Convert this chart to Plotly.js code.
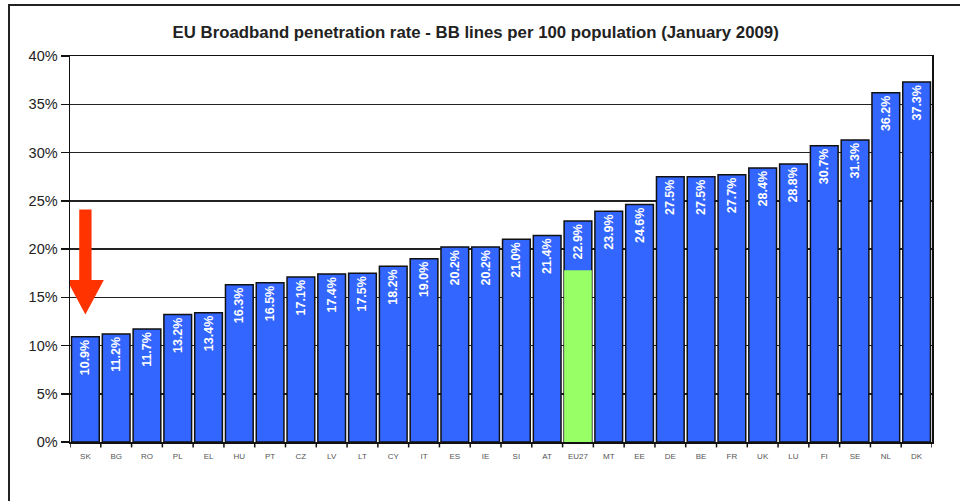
<!DOCTYPE html>
<html>
<head>
<meta charset="utf-8">
<script src="https://cdn.plot.ly/plotly-3.0.1.min.js"></script>
<style>
  html, body { margin: 0; padding: 0; background: #fff; }
  #wrap { position: relative; width: 960px; height: 501px; overflow: hidden; }
  #frame { position: absolute; left: 8px; top: 4px; width: 1000px; height: 600px;
           border-left: 2px solid #222; border-top: 2px solid #222; pointer-events: none; }
  #chart { position: absolute; left: 0; top: 0; width: 960px; height: 501px; }
</style>
</head>
<body>
<div id="wrap">
  <div id="chart"></div>
  <div id="frame"></div>
</div>
<script>
const countries = ["SK","BG","RO","PL","EL","HU","PT","CZ","LV","LT","CY","IT","ES","IE","SI","AT","EU27","MT","EE","DE","BE","FR","UK","LU","FI","SE","NL","DK"];
const rates = [10.9,11.2,11.7,13.2,13.4,16.3,16.5,17.1,17.4,17.5,18.2,19.0,20.2,20.2,21.0,21.4,22.9,23.9,24.6,27.5,27.5,27.7,28.4,28.8,30.7,31.3,36.2,37.3];
const eu27Green = [null,null,null,null,null,null,null,null,null,null,null,null,null,null,null,null,17.8,null,null,null,null,null,null,null,null,null,null,null];
const yTicks = [0,5,10,15,20,25,30,35,40];
const yTickLabels = yTicks.map(v => v + "%");
const titleText = "EU Broadband penetration rate - BB lines per 100 population (January 2009)";

const labels = rates.map(v => v.toFixed(1) + "%");
const xIdx = countries.map((c, i) => i);

const traces = [
  {
    type: "bar",
    x: xIdx,
    y: rates,
    text: labels,
    textposition: "inside",
    insidetextanchor: "end",
    textangle: -90,
    constraintext: "none",
    textfont: { family: "Liberation Sans, Arial, sans-serif", size: 12.5, color: "#ffffff", weight: "bold" },
    marker: { color: "#3366ff", line: { color: "#111111", width: 1.5 } },
    hoverinfo: "x+y",
    cliponaxis: false
  },
  {
    type: "bar",
    x: xIdx,
    y: eu27Green,
    marker: { color: "#99ff66", line: { width: 0 } },
    hoverinfo: "skip"
  }
];

const layout = {
  width: 960,
  height: 501,
  margin: { l: 70, r: 28, t: 56, b: 59 },
  paper_bgcolor: "#ffffff",
  plot_bgcolor: "#ffffff",
  showlegend: false,
  barmode: "overlay",
  bargap: 0.1,
  font: { family: "Liberation Sans, Arial, sans-serif", color: "#222" },
  title: {
    text: "<b>" + titleText + "</b>",
    x: 0.4955, xanchor: "center",
    y: 0.936, yanchor: "middle",
    font: { size: 16.8, color: "#222" }
  },
  xaxis: {
    type: "linear",
    range: [-0.5, countries.length - 0.5],
    tickmode: "array",
    tickvals: xIdx,
    ticktext: countries,
    tickfont: { size: 8, color: "#555" },
    ticklabelstandoff: 6,
    showgrid: false,
    zeroline: false,
    showline: true,
    linecolor: "#111",
    linewidth: 1.5,
    mirror: true,
    ticks: "",
    fixedrange: true
  },
  yaxis: {
    range: [0, 40],
    tickmode: "array",
    tickvals: yTicks,
    ticktext: yTickLabels,
    tickfont: { size: 14.5, color: "#222" },
    showgrid: true,
    gridcolor: "#222",
    gridwidth: 1.5,
    zeroline: false,
    showline: true,
    linecolor: "#111",
    linewidth: 1.5,
    mirror: true,
    ticks: "outside",
    ticklen: 8,
    tickcolor: "#111",
    tickwidth: 1.5,
    fixedrange: true
  },
  shapes: [],
  annotations: []
};

// category boundary tick marks below x axis
for (let i = 0; i <= countries.length; i++) {
  layout.shapes.push({
    type: "line", xref: "x", yref: "paper",
    x0: i - 0.5, x1: i - 0.5, y0: 0, y1: -0.014,
    line: { color: "#111", width: 1.5 }
  });
}

// red arrow pointing at SK
layout.shapes.push({
  type: "path", xref: "x", yref: "y",
  path: "M -0.2 24.1 L 0.2 24.1 L 0.2 16.8 L 0.6 16.8 L 0 13.2 L -0.6 16.8 L -0.2 16.8 Z",
  fillcolor: "#ff3300",
  line: { width: 0 },
  layer: "above"
});

Plotly.newPlot("chart", traces, layout, { displayModeBar: false, staticPlot: true });
</script>
</body>
</html>
